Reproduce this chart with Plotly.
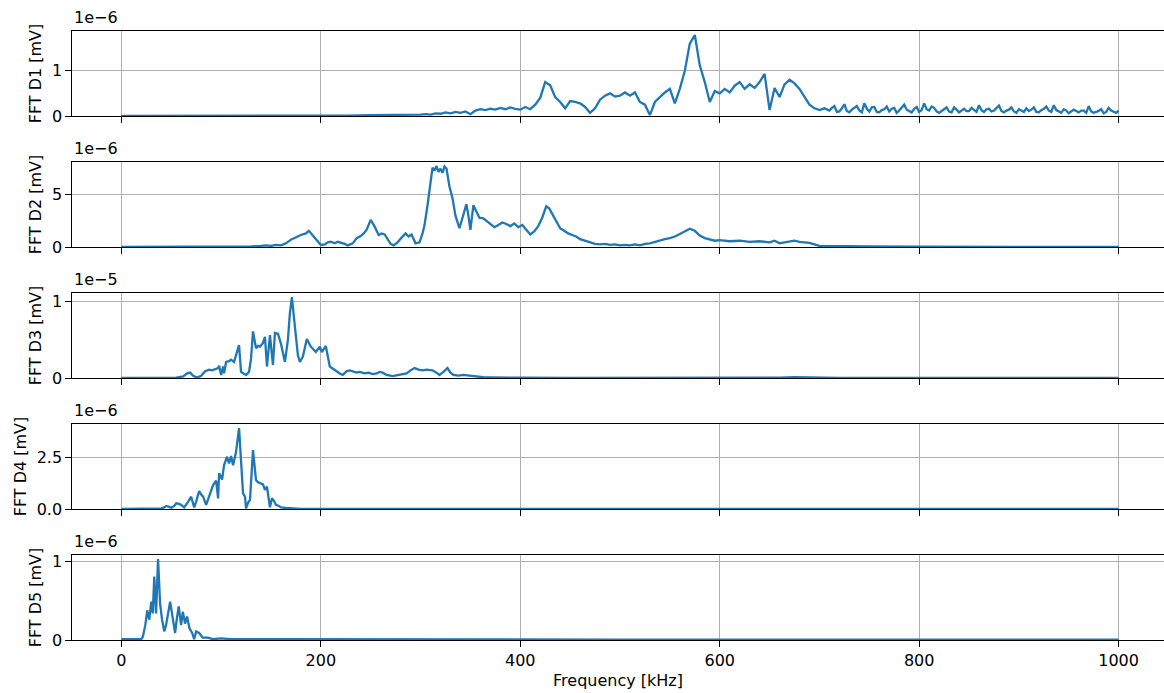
import plotly.graph_objects as go

# ---- spectra (frequency in kHz, magnitude in units of 1e-6 mV) ----
D1_FREQ = [*range(0, 300, 25), *range(300, 710, 5), *[k / 2 for k in range(1420, 2001, 5)]]
D1_VAL = [
    0.0, 0.0, 0.0, 0.0, 0.0, 0.0, 0.0, 0.005, 0.01, 0.01, 0.02, 0.02,
    0.03, 0.04, 0.03, 0.06, 0.05, 0.08, 0.06, 0.09, 0.07, 0.10, 0.04, 0.12,
    0.15, 0.13, 0.16, 0.14, 0.18, 0.15, 0.19, 0.16, 0.14,
    0.20, 0.15, 0.25, 0.40, 0.75, 0.68, 0.42, 0.31, 0.17, 0.33, 0.31, 0.28,
    0.20, 0.07, 0.17, 0.36, 0.45, 0.50, 0.43, 0.45, 0.52, 0.45, 0.52, 0.31,
    0.25, 0.02, 0.31, 0.42, 0.52, 0.60, 0.28, 0.60, 1.00, 1.60, 1.79, 1.12,
    0.75, 0.31, 0.55, 0.50, 0.60, 0.52, 0.67, 0.75, 0.60, 0.70, 0.62, 0.75,
    0.93, 0.13, 0.62, 0.42, 0.70, 0.80, 0.72, 0.60, 0.42, 0.25, 0.17, 0.13,
    0.17,
    0.12, 0.18, 0.22, 0.09, 0.10, 0.17, 0.26, 0.11, 0.08, 0.14, 0.18, 0.22,
    0.12, 0.08, 0.28, 0.16, 0.10, 0.19, 0.20, 0.09, 0.08, 0.13, 0.15, 0.21,
    0.10, 0.16, 0.18, 0.07, 0.12, 0.19, 0.25, 0.14, 0.10, 0.08, 0.16, 0.20,
    0.09, 0.13, 0.28, 0.15, 0.12, 0.21, 0.18, 0.10, 0.07, 0.12, 0.15, 0.19,
    0.10, 0.08, 0.19, 0.14, 0.08, 0.12, 0.16, 0.11, 0.11, 0.18, 0.14, 0.09,
    0.24, 0.13, 0.09, 0.15, 0.16, 0.10, 0.12, 0.17, 0.23, 0.11, 0.08, 0.12,
    0.14, 0.19, 0.10, 0.07, 0.15, 0.12, 0.09, 0.17, 0.11, 0.14, 0.19, 0.09,
    0.08, 0.13, 0.16, 0.21, 0.12, 0.09, 0.24, 0.13, 0.10, 0.07, 0.15, 0.12,
    0.06, 0.10, 0.14, 0.11, 0.08, 0.12, 0.12, 0.07, 0.22, 0.10, 0.07, 0.09,
    0.11, 0.15, 0.06, 0.09, 0.18, 0.12, 0.10, 0.07, 0.12,
]

D2_FREQ = [
    0, 50, 100, 120, 130, 140, 145, 150, 155, 160, 165, 170, 175, 180, 185,
    188, 192, 196, 200, 204, 207, 210, 214, 217, 220, 224, 227, 232, 236,
    240, 243, 246, 250, 254, 258, 261, 264, 267, 270, 273, 277, 281, 285,
    288, 291, 295, 299, 302, 304, 307, 310, 312, 314, 316, 318, 320, 322,
    324, 326, 329, 332, 335, 339, 342, 346, 348, 350, 353, 356, 359, 363,
    366, 370, 374, 378, 382, 386, 390, 394, 398, 402, 406, 410, 414, 418,
    422, 426, 429, 432, 436, 440, 444, 448, 452, 456, 460, 465, 470, 475,
    480, 485, 490, 495, 500, 505, 510, 515, 520, 525, 530, 535, 540, 545,
    550, 555, 560, 565, 570, 575, 580, 585, 590, 595, 600, 610, 620, 630,
    640, 650, 655, 660, 665, 670, 675, 680, 690, 700, 710, 720, 750, 800,
    850, 900, 1000,
]
D2_VAL = [
    0.0, 0.0, 0.01, 0.02, 0.05, 0.1, 0.15, 0.1, 0.2, 0.15, 0.35, 0.7, 0.95,
    1.15, 1.3, 1.55, 1.1, 0.7, 0.2, 0.25, 0.45, 0.5, 0.35, 0.5, 0.42, 0.3,
    0.15, 0.35, 0.85, 1.05, 1.3, 1.65, 2.6, 1.95, 1.15, 1.3, 1.2, 0.8, 0.3,
    0.15, 0.45, 0.9, 1.3, 1.0, 1.2, 0.35, 0.45, 1.3, 2.1, 4.0, 6.5, 7.6,
    7.3, 7.75, 7.2, 7.5, 7.1, 7.7, 7.5, 5.8, 4.7, 3.0, 1.8, 2.9, 4.1, 3.0,
    1.65, 4.0, 3.4, 2.8, 2.75, 2.5, 2.2, 1.9, 2.1, 2.35, 2.2, 2.0, 2.25,
    1.9, 2.1, 1.7, 1.2, 1.5, 2.0, 2.8, 3.9, 3.7, 3.2, 2.6, 1.8, 1.55, 1.3,
    1.15, 1.0, 0.75, 0.6, 0.4, 0.3, 0.25, 0.3, 0.2, 0.25, 0.15, 0.2, 0.15,
    0.25, 0.15, 0.3, 0.35, 0.5, 0.6, 0.75, 0.85, 1.0, 1.25, 1.5, 1.75,
    1.55, 1.1, 0.85, 0.7, 0.6, 0.65, 0.55, 0.6, 0.5, 0.55, 0.45, 0.6, 0.35,
    0.45, 0.55, 0.6, 0.5, 0.4, 0.1, 0.08, 0.05, 0.05, 0.03, 0.02, 0.02,
    0.01,
]

D3_FREQ = [
    0, 40, 55, 62, 66, 69, 72, 76, 80, 84, 88, 91, 94, 97, 98, 100, 102,
    103, 105, 108, 110, 113, 115, 118, 120, 123, 125, 128, 130, 132, 135,
    137, 139, 142, 144, 146, 149, 152, 154, 157, 160, 164, 167, 169, 171,
    173, 175, 177, 179, 182, 186, 190, 195, 199, 201, 205, 209, 212, 215,
    219, 222, 226, 229, 232, 236, 239, 244, 248, 252, 256, 259, 262, 266,
    272, 278, 282, 286, 290, 294, 298, 302, 306, 312, 316, 319, 323, 327,
    330, 333, 338, 343, 349, 356, 363, 370, 380, 400, 450, 500, 600, 660,
    675, 690, 720, 800, 1000,
]
D3_VAL = [
    0.0, 0.0, 0.05, 0.2, 0.6, 0.7, 0.3, 0.05, 0.3, 0.9, 1.1, 1.0, 1.2, 1.3,
    1.6, 0.4, 1.5, 0.6, 2.1, 2.2, 2.4, 2.1, 3.0, 4.3, 0.8, 0.5, 0.4, 0.8,
    2.5, 6.1, 3.9, 4.2, 4.1, 4.6, 5.4, 1.5, 5.6, 1.7, 5.9, 5.8, 4.5, 2.1,
    5.0, 8.5, 10.6, 8.0, 5.4, 3.0, 2.1, 2.8, 5.1, 4.1, 3.4, 4.1, 3.4, 4.2,
    1.5, 1.2, 1.0, 0.6, 0.4, 0.9, 1.0, 0.9, 0.7, 0.8, 0.6, 0.7, 0.5, 0.6,
    0.8, 0.7, 0.4, 0.25, 0.4, 0.5, 0.6, 1.0, 1.3, 1.1, 1.0, 1.1, 1.0, 0.7,
    0.4, 0.8, 1.3, 0.7, 0.4, 0.3, 0.4, 0.3, 0.15, 0.1, 0.08, 0.05, 0.03,
    0.02, 0.02, 0.02, 0.05, 0.12, 0.06, 0.02, 0.01, 0.01,
]

D4_FREQ = [
    0, 20, 30, 40, 43, 45, 48, 50, 53, 55, 58, 60, 63, 65, 67, 70, 73, 75,
    78, 80, 82, 85, 88, 90, 92, 95, 97, 98, 101, 103, 106, 108, 110, 112,
    115, 118, 120, 122, 124, 125, 127, 129, 132, 135, 137, 139, 142, 144,
    146, 149, 151, 153, 155, 158, 160, 165, 169, 180, 250, 360, 370, 380,
    500, 1000,
]
D4_VAL = [
    0.0, 0.0, 0.02, 0.03, 0.08, 0.15, 0.1, 0.06, 0.15, 0.28, 0.25, 0.2,
    0.08, 0.2, 0.36, 0.6, 0.08, 0.36, 0.88, 0.7, 0.6, 0.2, 0.6, 0.9, 1.17,
    1.38, 0.52, 1.74, 1.44, 2.14, 2.55, 2.22, 2.58, 2.14, 2.79, 3.95, 2.06,
    0.76, 0.6, 0.03, 0.3, 0.44, 2.87, 1.41, 1.3, 1.25, 1.2, 0.93, 1.09,
    0.08, 0.52, 0.4, 0.2, 0.15, 0.08, 0.05, 0.03, 0.01, 0.01, 0.01, 0.04,
    0.01, 0.01, 0.01,
]

D5_FREQ = [
    0, 10, 20, 21.5, 24, 26, 28, 30, 31.5, 33, 34.8, 36.8, 38.8, 40.8, 43,
    44.8, 47, 48.9, 51.5, 53.9, 55.5, 57.5, 59.9, 61.6, 63.9, 65.9, 68.3,
    71, 73, 75, 78, 81.6, 86.7, 91.7, 100, 110, 150, 300, 500, 1000,
]
D5_VAL = [
    0.01, 0.01, 0.01, 0.04, 0.19, 0.38, 0.26, 0.49, 0.34, 0.81, 0.34, 1.035,
    0.47, 0.26, 0.11, 0.19, 0.35, 0.49, 0.28, 0.09, 0.26, 0.43, 0.19, 0.36,
    0.21, 0.3, 0.15, 0.09, 0.01, 0.11, 0.09, 0.03, 0.03, 0.01, 0.02, 0.01,
    0.01, 0.005, 0.005, 0.005,
]

SERIES = [
    ("FFT D1 [mV]", D1_FREQ, D1_VAL, 1e-6, [0, 1], ["0", "1"], "1e\u22126"),
    ("FFT D2 [mV]", D2_FREQ, D2_VAL, 1e-6, [0, 5], ["0", "5"], "1e\u22126"),
    ("FFT D3 [mV]", D3_FREQ, D3_VAL, 1e-6, [0, 10], ["0", "1"], "1e\u22125"),
    ("FFT D4 [mV]", D4_FREQ, D4_VAL, 1e-6, [0, 2.5], ["0.0", "2.5"], "1e\u22126"),
    ("FFT D5 [mV]", D5_FREQ, D5_VAL, 1e-6, [0, 1], ["0", "1"], "1e\u22126"),
]

X_TICKS = [0, 200, 400, 600, 800, 1000]
X_LABEL = "Frequency [kHz]"

W, H = 1164, 693
LINE_BLUE = "#1f77b4"
FONT = dict(family="DejaVu Sans", size=16, color="black")
PANEL_TOPS = [31, 162, 293, 424, 555]
PANEL_H = 85

fig = go.Figure()
layout = dict(
    width=W, height=H,
    margin=dict(l=0, r=0, t=0, b=0, autoexpand=False),
    paper_bgcolor="white", plot_bgcolor="white",
    font=FONT, showlegend=False,
    annotations=[],
)

for i, (title, freq, vals, scale, tv, tt, offset) in enumerate(SERIES):
    assert len(freq) == len(vals), title
    n = i + 1
    xa = "x" if n == 1 else f"x{n}"
    ya = "y" if n == 1 else f"y{n}"
    ys = [v * scale for v in vals]
    fig.add_trace(go.Scatter(
        x=freq, y=ys, mode="lines", xaxis=xa, yaxis=ya,
        line=dict(color=LINE_BLUE, width=2.3),
        hoverinfo="skip",
    ))
    top = PANEL_TOPS[i]
    ymax = max(ys) * 1.05
    layout["xaxis" if n == 1 else f"xaxis{n}"] = dict(
        domain=[72 / W, 1.0], anchor=ya, automargin=False,
        range=[-49.5, 1045.5],
        tickvals=X_TICKS, showticklabels=(n == 5),
        ticks="outside", ticklen=5.5, tickwidth=1.3, tickcolor="black",
        showline=True, linecolor="black", linewidth=1.3, mirror=True,
        showgrid=True, gridcolor="#b0b0b0", gridwidth=1.2,
        zeroline=False,
        title=dict(text=X_LABEL if n == 5 else "", standoff=5, font=FONT),
        **({} if n == 1 else {"matches": "x"}),
    )
    layout["yaxis" if n == 1 else f"yaxis{n}"] = dict(
        domain=[1 - (top + PANEL_H) / H, 1 - top / H], anchor=xa,
        automargin=False,
        range=[0, ymax],
        tickvals=[v * scale for v in tv], ticktext=tt,
        ticks="outside", ticklen=5.5, tickwidth=1.3, tickcolor="black",
        showline=True, linecolor="black", linewidth=1.3, mirror=False,
        showgrid=True, gridcolor="#b0b0b0", gridwidth=1.2,
        zeroline=False,
        title=dict(text=title, standoff=6, font=FONT),
    )
    layout["annotations"].append(dict(
        text=offset, showarrow=False,
        xref=f"{xa} domain", yref=f"{ya} domain",
        x=0, y=1, xanchor="left", yanchor="bottom", yshift=2,
        font=FONT,
    ))

fig.update_layout(**layout)
fig.write_html("out.html")
